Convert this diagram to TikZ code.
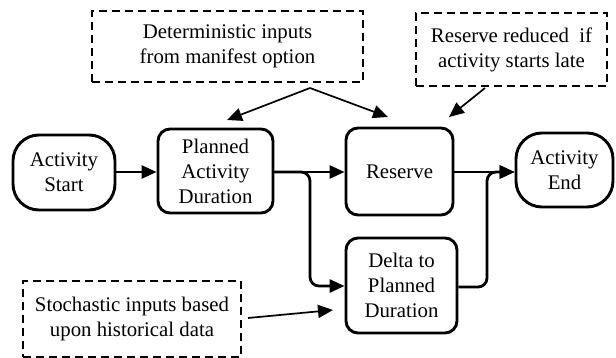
\documentclass[tikz,border=0pt]{standalone}
\usepackage{fontspec}
\setmainfont{Liberation Serif}
\usetikzlibrary{arrows.meta}
\begin{document}
\begin{tikzpicture}[x=1pt,y=1pt,
  every node/.style={font=\fontsize{20.8}{25}\selectfont, align=center, inner sep=0pt},
  terminal/.style={draw, line width=2.9pt, rounded corners=26pt},
  process/.style={draw, line width=2.9pt, rounded corners=12pt},
  note/.style={draw, line width=1.7pt, dash pattern=on 8pt off 5pt},
  flow/.style={line width=2.8pt, rounded corners=9pt, -{Triangle[length=15pt,width=13pt]}},
  feed/.style={line width=1.7pt, -{Triangle[length=15pt,width=13pt]}}]
  \useasboundingbox (0,0) rectangle (616,-358);

  % main flow nodes
  \node[terminal, minimum width=102pt, minimum height=75pt] (start) at (64,-172.5) {Activity\\Start};
  \node[process, minimum width=115pt, minimum height=84pt] (plan) at (215.5,-171) {Planned\\Activity\\Duration};
  \node[process, minimum width=107pt, minimum height=87pt] (reserve) at (399.5,-171.5) {Reserve};
  \node[terminal, minimum width=97pt, minimum height=74pt] (end) at (564.5,-170) {Activity\\End};
  \node[process, minimum width=111pt, minimum height=95pt] (delta) at (401.5,-285.5) {Delta to\\Planned\\Duration};

  % annotation boxes
  \node[note, minimum width=271pt, minimum height=71pt] (det) at (227.5,-46.5) {Deterministic inputs\\from manifest option};
  \node[note, minimum width=191pt, minimum height=73pt] (late) at (511.5,-49.5) {Reserve reduced~ if\\activity starts late};
  \node[note, minimum width=218pt, minimum height=76pt] (stoch) at (132,-319) {Stochastic inputs based\\upon historical data};

  % connector helper points
  \coordinate (split) at (310,-172);
  \coordinate (merge) at (487,-172);
  \coordinate (apex) at (310,-88);
  \coordinate (planTop) at (227,-120);
  \coordinate (resTopL) at (388,-117);
  \coordinate (resTopR) at (449,-117);
  \coordinate (lateFoot) at (485,-88);
  \coordinate (stochEnd) at (248,-318);
  \coordinate (deltaIn) at (333,-310);

  % main flow
  \draw[flow] (start.east |- 0,-172) -- (plan.west |- 0,-172);
  \draw[flow] (plan.east |- 0,-172) -- (reserve.west |- 0,-172);
  \draw[flow] (plan.east |- 0,-172) -- (split) -- (310,-286) -- (delta.west |- 0,-286);
  \draw[flow] (reserve.east |- 0,-172) -- (end.west |- 0,-172);
  \draw[flow] (delta.east |- 0,-287) -- (487,-287) -- (merge) -- (end.west |- 0,-172);

  % inputs
  \draw[feed] (apex) -- (planTop);
  \draw[feed] (apex) -- (resTopL);
  \draw[feed] (lateFoot) -- (resTopR);
  \draw[feed] (stochEnd) -- (deltaIn);
\end{tikzpicture}
\end{document}
